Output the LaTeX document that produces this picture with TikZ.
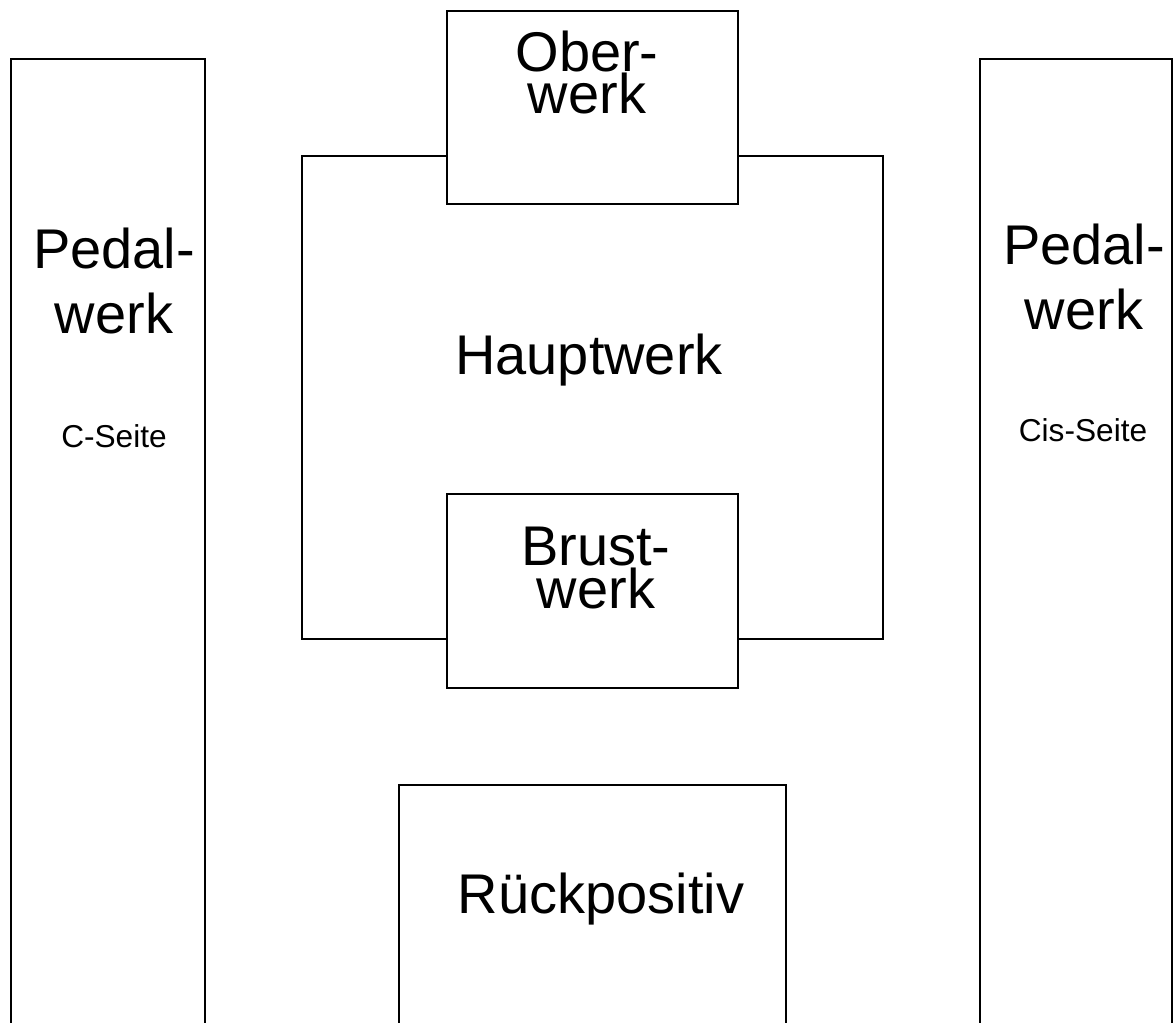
\documentclass[tikz,border=0pt]{standalone}
\usepackage{fontspec}
\setmainfont{Liberation Sans}
\begin{document}
\begin{tikzpicture}[x=0.025cm, y=-0.025cm, line width=1.1pt,
    bigtext/.style={font=\fontsize{39.8}{46.9}\selectfont, inner sep=0pt, align=center, anchor=base},
    smalltext/.style={font=\fontsize{22.5}{27}\selectfont, inner sep=0pt, anchor=base}]
    \useasboundingbox (0,0) rectangle (1173,1023);
    \clip (0,0) rectangle (1173,1023);

    % pedal towers
    \draw (11,59) rectangle (205,1040);
    \draw (980,59) rectangle (1172,1040);
    \node[bigtext] (pedalC) at (114,334) {Pedal-\\werk};
    \node[smalltext] (seiteC) at (114,448) {C-Seite};
    \node[bigtext] (pedalCis) at (1084,330) {Pedal-\\werk};
    \node[smalltext] (seiteCis) at (1083,442) {Cis-Seite};

    % main case
    \draw (302,156) rectangle (883,639);
    \node[bigtext] (haupt) at (589,375) {Hauptwerk};

    \draw[fill=white] (447,11) rectangle (738,204);
    \node[bigtext, font=\fontsize{39.8}{29}\selectfont] (ober) at (587,114) {Ober-\\werk};

    \draw[fill=white] (447,494) rectangle (738,688);
    \node[bigtext, font=\fontsize{39.8}{31}\selectfont] (brust) at (596,609) {Brust-\\werk};

    % positive in front
    \draw (399,785) rectangle (786,1040);
    \node[bigtext] (rueck) at (601,913) {Rückpositiv};

\end{tikzpicture}
\end{document}
